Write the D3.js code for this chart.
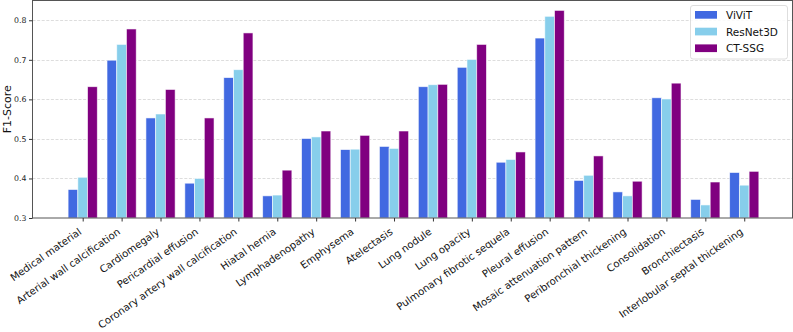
<!DOCTYPE html>
<html>
<head>
<meta charset="utf-8">
<script src="https://cdn.jsdelivr.net/npm/d3@7"></script>
<style>
  body { margin: 0; background: white; }
  svg { display: block; font-family: "DejaVu Sans", sans-serif; }
</style>
</head>
<body>
<svg id="chart" width="793" height="332"></svg>
<script>
const categories = [
  "Medical material", "Arterial wall calcification", "Cardiomegaly",
  "Pericardial effusion", "Coronary artery wall calcification", "Hiatal hernia",
  "Lymphadenopathy", "Emphysema", "Atelectasis", "Lung nodule", "Lung opacity",
  "Pulmonary fibrotic sequela", "Pleural effusion", "Mosaic attenuation pattern",
  "Peribronchial thickening", "Consolidation", "Bronchiectasis",
  "Interlobular septal thickening"
];
const vivit = [0.372, 0.699, 0.553, 0.388, 0.655, 0.356, 0.501, 0.473, 0.481,
  0.632, 0.681, 0.441, 0.755, 0.395, 0.366, 0.604, 0.347, 0.415];
const resnet3d = [0.403, 0.739, 0.563, 0.400, 0.675, 0.358, 0.505, 0.474, 0.476,
  0.637, 0.701, 0.448, 0.810, 0.408, 0.356, 0.601, 0.333, 0.383];
const ctssg = [0.632, 0.778, 0.625, 0.553, 0.768, 0.421, 0.520, 0.509, 0.520,
  0.638, 0.739, 0.467, 0.825, 0.457, 0.393, 0.641, 0.391, 0.418];
const seriesNames = ["ViViT", "ResNet3D", "CT-SSG"];
const yTicks = [0.3, 0.4, 0.5, 0.6, 0.7, 0.8];

const series = [
  { name: seriesNames[0], values: vivit, color: "#4169e1", offset: -0.25 },
  { name: seriesNames[1], values: resnet3d, color: "#87ceeb", offset: 0 },
  { name: seriesNames[2], values: ctssg, color: "#800080", offset: 0.25 }
];

const plotLeft = 32.5, plotRight = 792.5, plotTop = 0.5, plotBottom = 218;
const barW = 0.25;

const svg = d3.select("#chart");
const x = d3.scaleLinear().domain([-1.29, 18.24]).range([plotLeft, plotRight]);
const y = d3.scaleLinear().domain([0.3, 0.85]).range([plotBottom, plotTop]);

// grid
svg.append("g")
  .selectAll("line")
  .data(yTicks.slice(1))
  .join("line")
  .attr("x1", plotLeft).attr("x2", plotRight)
  .attr("y1", (d) => Math.round(y(d)) + 0.5)
  .attr("y2", (d) => Math.round(y(d)) + 0.5)
  .attr("stroke", "#d4d4d4")
  .attr("stroke-width", 0.8)
  .attr("stroke-dasharray", "3,1.6");

// bars
series.forEach((s) => {
  svg.append("g")
    .selectAll("rect")
    .data(s.values)
    .join("rect")
    .attr("x", (d, i) => x(i + s.offset - barW / 2))
    .attr("y", (d) => y(d))
    .attr("width", x(barW) - x(0))
    .attr("height", (d) => plotBottom - y(d))
    .attr("fill", s.color)
    .attr("stroke", "white")
    .attr("stroke-opacity", 0.7)
    .attr("stroke-width", 0.8);
});

// frame
svg.append("rect")
  .attr("x", plotLeft).attr("y", plotTop)
  .attr("width", plotRight - plotLeft).attr("height", plotBottom - plotTop)
  .attr("fill", "none")
  .attr("stroke", "#555")
  .attr("stroke-width", 1);

// y axis
const yAxis = d3.axisLeft(y)
  .tickValues(yTicks)
  .tickFormat(d3.format(".1f"))
  .tickSize(3.5)
  .tickPadding(2.5);
svg.append("g")
  .attr("transform", `translate(${plotLeft},0)`)
  .call(yAxis)
  .call((g) => g.select(".domain").remove())
  .call((g) => g.selectAll(".tick line").attr("stroke", "#333"))
  .call((g) => g.selectAll(".tick text")
    .attr("font-size", 7.8)
    .attr("fill", "#222")
    .attr("font-family", "DejaVu Sans"));

// x axis
const xAxis = d3.axisBottom(x)
  .tickValues(d3.range(categories.length))
  .tickFormat((i) => categories[i])
  .tickSize(3.5);
svg.append("g")
  .attr("transform", `translate(0,${plotBottom})`)
  .call(xAxis)
  .call((g) => g.select(".domain").remove())
  .call((g) => g.selectAll(".tick line").attr("stroke", "#333"))
  .call((g) => g.selectAll(".tick text")
    .attr("font-size", 10.1)
    .attr("fill", "#111")
    .attr("font-family", "DejaVu Sans")
    .attr("text-anchor", "end")
    .attr("dy", null)
    .attr("y", null)
    .attr("transform", "translate(-1,15.3) rotate(-35)"));

// y label
svg.append("text")
  .attr("transform", `translate(10.5,${(plotTop + plotBottom) / 2}) rotate(-90)`)
  .attr("text-anchor", "middle")
  .attr("font-size", 11)
  .attr("fill", "#111")
  .text("F1-Score");

// legend
const legend = svg.append("g");
legend.append("rect")
  .attr("x", 690.5).attr("y", 5.5)
  .attr("width", 97).attr("height", 53.5)
  .attr("rx", 2.5)
  .attr("fill", "white")
  .attr("fill-opacity", 0.85)
  .attr("stroke", "#d6d6d6")
  .attr("stroke-width", 0.8);
series.forEach((s, i) => {
  legend.append("rect")
    .attr("x", 695).attr("y", 11 + i * 16.7)
    .attr("width", 22).attr("height", 7.7)
    .attr("fill", s.color);
  legend.append("text")
    .attr("x", 726).attr("y", 19 + i * 16.7)
    .attr("font-size", 10.5)
    .attr("fill", "#111")
    .text(s.name);
});
</script>
</body>
</html>
